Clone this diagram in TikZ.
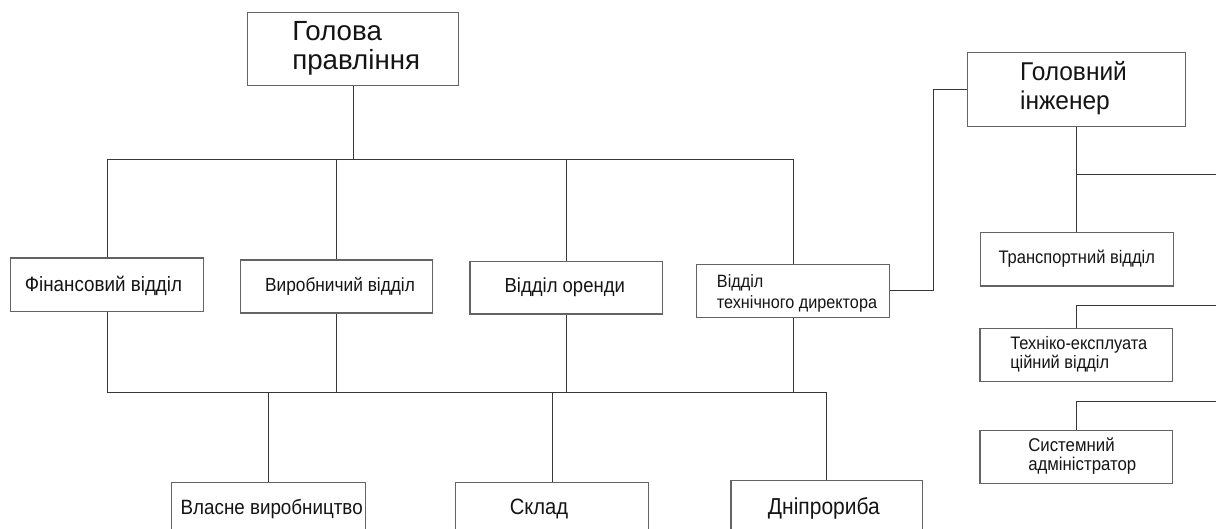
\documentclass[tikz,border=0pt]{standalone}
\usepackage{fontspec}
\usepackage{graphicx}
\setmainfont{Liberation Sans}
\usetikzlibrary{calc}
\definecolor{boxcol}{RGB}{100,100,100}
\definecolor{linecol}{RGB}{55,55,55}
\definecolor{txtcol}{RGB}{20,20,20}
\newcommand{\fsz}[2]{\fontsize{#1}{#2}\selectfont}
% text block: left pad, right pad, vertical stretch, lines
\newcommand{\tlx}[4]{\scalebox{1}[#3]{\begin{tabular}{@{\hspace{#1}}l@{\hspace{#2}}}#4\end{tabular}}}
% lower content without changing its box
\newcommand{\lowerby}[2]{\raisebox{-#1}[\height][\depth]{#2}}
\begin{document}
\begin{tikzpicture}[x=1pt,y=-1pt,
  unit/.style={draw=boxcol, line width=1.2pt, rectangle, inner sep=0pt, text=txtcol},
  link/.style={draw=linecol, line width=1pt}]
\useasboundingbox (0,0) rectangle (1216,529);
\clip (0,0) rectangle (1216,529);

% top level
\node[unit, minimum width=211.3pt, minimum height=73pt, font=\fsz{27.7}{29}] (head) at (353.2,49.2) {\tlx{6pt}{0pt}{1.0}{Голова\\правління}};

% second level
\node[unit, minimum width=192.5pt, minimum height=53.3pt, font=\fsz{18.8}{22}] (fin) at (107,284.7) {\lowerby{1.5pt}{\tlx{0pt}{7pt}{1.1}{Фінансовий відділ}}};
\node[unit, minimum width=192.5pt, minimum height=53pt, font=\fsz{17.3}{21}] (vyr) at (336.5,286.5) {\tlx{7pt}{0pt}{1.1}{Виробничий відділ}};
\node[unit, minimum width=192.5pt, minimum height=52.3pt, font=\fsz{18.5}{22}] (ore) at (566.3,287.9) {\tlx{0pt}{3pt}{1.1}{Відділ оренди}};
\node[unit, minimum width=192.5pt, minimum height=53pt, font=\fsz{16.2}{18.5}] (tech) at (793,290.8) {\lowerby{3pt}{\tlx{8pt}{0pt}{1.1}{Відділ\\технічного директора}}};

% chief engineer branch
\node[unit, minimum width=217.3pt, minimum height=74.4pt, font=\fsz{24.5}{27.5}] (golinzh) at (1076.5,89.5) {\tlx{0pt}{6pt}{1.05}{Головний\\інженер}};
\node[unit, minimum width=193pt, minimum height=53.3pt, font=\fsz{16.5}{19}] (trans) at (1076.8,259.3) {\tlx{0pt}{0pt}{1.1}{Транспортний відділ}};
\node[unit, minimum width=192.7pt, minimum height=53.4pt, font=\fsz{16.4}{17.5}] (tekh) at (1076.3,355) {\tlx{5pt}{0pt}{1.1}{Техніко-експлуата\\ційний відділ}};
\node[unit, minimum width=192.7pt, minimum height=52.6pt, font=\fsz{16.8}{17}] (sys) at (1076.3,457) {\tlx{12pt}{0pt}{1.1}{Системний\\адміністратор}};

% bottom level
\node[unit, minimum width=194pt, minimum height=53pt, font=\fsz{18.8}{22}] (vlasne) at (268.7,509.2) {\tlx{6pt}{0pt}{1.1}{Власне виробництво}};
\node[unit, minimum width=192.6pt, minimum height=53pt, font=\fsz{20.2}{24}] (sklad) at (552,508.8) {\tlx{0pt}{26pt}{1.1}{Склад}};
\node[unit, minimum width=191.7pt, minimum height=53pt, font=\fsz{21}{25}] (dnipro) at (826.9,507.2) {\lowerby{1.5pt}{\tlx{0pt}{6pt}{1.1}{Дніпрориба}}};

% helper coordinates
\coordinate (bus1) at (0,159.3);
\coordinate (bus2) at (0,392.7);
\coordinate (jog) at (933.6,0);
\coordinate (r1) at (1216,175);
\coordinate (r2) at (1216,305.3);
\coordinate (r3) at (1216,401.7);

% upper bus
\draw[link] (head.south) -- (head.south |- bus1);
\draw[link] (fin.north) |- (tech.north |- bus1) -- (tech.north);
\draw[link] (vyr.north) -- (vyr.north |- bus1);
\draw[link] (ore.north) -- (ore.north |- bus1);

% lower bus
\draw[link] (fin.south) |- (dnipro.north |- bus2) -- (dnipro.north);
\draw[link] (vyr.south) -- (vyr.south |- bus2);
\draw[link] (ore.south) -- (ore.south |- bus2);
\draw[link] (tech.south) -- (tech.south |- bus2);
\draw[link] (vlasne.north) -- (vlasne.north |- bus2);
\draw[link] (sklad.north) -- (sklad.north |- bus2);

% technical director to chief engineer
\draw[link] (tech.east) -- (tech.east -| jog) |- (golinzh.west);

% chief engineer branch
\draw[link] (golinzh.south) -- (golinzh.south |- trans.north);
\draw[link] (golinzh.south |- r1) -- (r1);
\draw[link] (tekh.north) |- (r2);
\draw[link] (sys.north) |- (r3);
\end{tikzpicture}
\end{document}
